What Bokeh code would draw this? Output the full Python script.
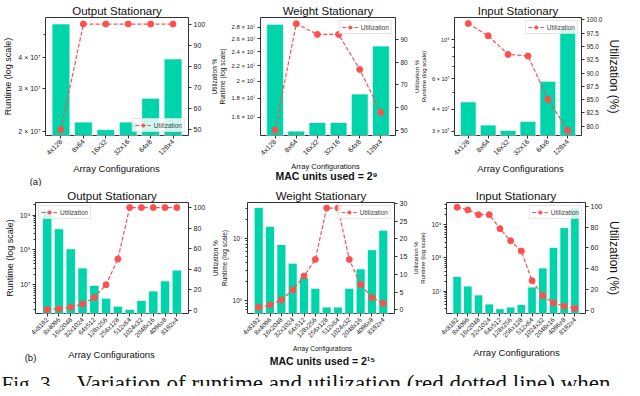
import math
from bokeh.plotting import figure
from bokeh.models import (Range1d, FactorRange, LinearAxis, LinearScale, FixedTicker,
                          PrintfTickFormatter, Label)
from bokeh.layouts import row, column
from bokeh.embed import file_html
from bokeh.resources import INLINE

# ---------------- data ----------------
top_configs = ["4x128", "8x64", "16x32", "32x16", "64x8", "128x4"]
bottom_configs = ["4x8192", "8x4096", "16x2048", "32x1024", "64x512", "128x256",
                  "256x128", "512x64", "1024x32", "2048x16", "4096x8", "8192x4"]

os_top_runtime = [5.5e7, 2.19e7, 2.04e7, 2.19e7, 2.74e7, 3.96e7]
os_top_util = [50, 100, 100, 100, 100, 100]
ws_top_runtime = [2.85e7, 1.47e7, 1.55e7, 1.55e7, 1.85e7, 2.49e7]
ws_top_util = [50, 96.9, 92.2, 92.2, 76.7, 57.7]
is_top_runtime = [4.42e7, 3.26e7, 3.04e7, 3.42e7, 5.8e7, 1.154e8]
is_top_util = [99.3, 97.0, 93.5, 93.2, 85.1, 79.2]

os_bot_runtime = [1.42e9, 4.05e8, 1.08e8, 3.03e7, 9.6e6, 4.1e6, 2.42e6, 1.96e6, 3.53e6, 6.6e6, 1.29e7, 2.63e7]
os_bot_util = [0.78, 1.56, 3.125, 6.25, 12.5, 25, 50, 100, 100, 100, 100, 100]
ws_bot_runtime = [3.1e7, 1.54e7, 7.9e6, 3.95e6, 2.34e6, 1.56e6, 7.8e5, 7.8e5, 1.56e6, 3.2e6, 6.5e6, 1.34e7]
ws_bot_util = [0.71, 1.33, 2.75, 5.6, 9.5, 14.2, 28.7, 28.7, 14.2, 7.1, 3.4, 1.8]
is_bot_runtime = [2.76e7, 1.42e7, 7.7e6, 4.1e6, 2.95e6, 3.3e6, 3.95e6, 1.33e7, 5.0e7, 2.07e8, 8.2e8, 3.37e9]
is_bot_util = [99.1, 96.6, 92, 92, 78.5, 66.9, 57, 28.5, 14.1, 7.1, 4, 1.8]

# axis limits
os_top_ylim = [1.93e7, 5.84e7]; os_top_ulim = [47.2, 103.1]
ws_top_ylim = [1.43e7, 2.97e7]; ws_top_ulim = [47.6, 99.65]
is_top_ylim = [2.84e7, 1.34e8]; is_top_ulim = [78.27, 100.43]
os_bot_ylim = [1.49e6, 2.3e9]; os_bot_ulim = [-3.0, 104.9]
ws_bot_ylim = [6.14e5, 3.73e7]; ws_bot_ulim = [-1.06, 30.27]
is_bot_ylim = [2.12e6, 4.69e9]; is_bot_ulim = [-3.07, 103.7]

# tick values and labels
os_top_ticks = [20000000, 30000000, 40000000]
os_top_tick_labels = ["2 × 10⁷", "3 × 10⁷", "4 × 10⁷"]
os_top_minor = [50000000]
ws_top_ticks = [16000000, 18000000, 20000000, 22000000, 24000000, 26000000, 28000000]
ws_top_tick_labels = ["1.6 × 10⁷", "1.8 × 10⁷", "2 × 10⁷", "2.2 × 10⁷", "2.4 × 10⁷", "2.6 × 10⁷", "2.8 × 10⁷"]
is_top_ticks = [30000000, 40000000, 60000000, 100000000]
is_top_tick_labels = ["3 × 10⁷", "4 × 10⁷", "6 × 10⁷", "10⁸"]
is_top_minor = [50000000, 70000000, 80000000, 90000000]
decade_ticks_789 = [10000000, 100000000, 1000000000]
decade_labels_789 = ["10⁷", "10⁸", "10⁹"]
decade_ticks_67 = [1000000, 10000000]
decade_labels_67 = ["10⁶", "10⁷"]
log_minor = [m * 10 ** e for e in range(5, 10) for m in range(2, 10)]

os_top_uticks = [50, 60, 70, 80, 90, 100]
ws_top_uticks = [50, 60, 70, 80, 90]
is_top_uticks = [80, 82.5, 85, 87.5, 90, 92.5, 95, 97.5, 100]
os_bot_uticks = [0, 20, 40, 60, 80, 100]
ws_bot_uticks = [0, 5, 10, 15, 20, 25, 30]
is_bot_uticks = [0, 20, 40, 60, 80, 100]

BAR = "#00d4aa"
RED = "#ff5050"
FONT = "Liberation Sans"


def style_axis(ax, tick_size, label_size):
    ax.major_label_text_font = FONT
    ax.major_label_text_font_size = tick_size
    ax.major_label_text_color = "#222222"
    ax.axis_label_text_font = FONT
    ax.axis_label_text_font_size = label_size
    ax.axis_label_text_font_style = "normal"
    ax.axis_label_text_color = "#111111"
    ax.axis_line_color = None
    ax.major_tick_in = 0
    ax.major_tick_out = 3
    ax.minor_tick_in = 0
    ax.minor_tick_out = 2
    ax.major_tick_line_color = "#333333"
    ax.minor_tick_line_color = "#333333"
    ax.major_label_standoff = 2
    ax.axis_label_standoff = 2


def make_panel(cats, runtime, util, ylim, ulim, ticks, tick_labels, minor, uticks, ufmt,
               w, h, bl, br, bt, bb, title, ylab, ylab_size, ytick_size,
               xtick_size, utick_size, ulab, ulab_size, leg_loc, pad):
    p = figure(width=w, height=h, y_axis_type="log",
               x_range=FactorRange(factors=cats, range_padding=pad),
               y_range=Range1d(*ylim), output_backend="svg", toolbar_location=None,
               min_border_left=bl, min_border_right=br, min_border_top=bt, min_border_bottom=bb)
    p.extra_y_ranges = {"u": Range1d(*ulim)}
    p.extra_y_scales = {"u": LinearScale()}
    p.xgrid.visible = False
    p.ygrid.visible = False
    p.outline_line_color = "#333333"
    p.outline_line_width = 1

    p.vbar(x=cats, top=runtime, bottom=ylim[0] * 0.5, width=0.8,
           fill_color=BAR, line_color="white", line_width=0.8)
    p.line(x=cats, y=util, y_range_name="u", line_color=RED, line_width=1.2,
           line_dash="4 2", legend_label="Utilization")
    p.scatter(x=cats, y=util, y_range_name="u", size=6, fill_color=RED,
              line_color=RED, legend_label="Utilization")

    yax = p.yaxis[0]
    yax.ticker = FixedTicker(ticks=ticks, minor_ticks=minor)
    yax.major_label_overrides = dict(zip(ticks, tick_labels))
    yax.axis_label = ylab
    style_axis(yax, ytick_size, ylab_size)

    xax = p.xaxis[0]
    xax.axis_label = None
    xax.major_label_orientation = math.pi / 4
    style_axis(xax, xtick_size, "7px")

    rax = LinearAxis(y_range_name="u", ticker=FixedTicker(ticks=uticks))
    if ufmt:
        rax.formatter = PrintfTickFormatter(format=ufmt)
    rax.axis_label = ulab
    style_axis(rax, utick_size, ulab_size)
    p.add_layout(rax, "right")

    p.title.text = title
    p.title.align = "center"
    p.title.text_font = FONT
    p.title.text_font_size = "11.5px"
    p.title.text_font_style = "normal"
    p.title.text_color = "#111111"
    p.title.standoff = 1

    lg = p.legend[0]
    lg.location = leg_loc
    lg.label_text_font = FONT
    lg.label_text_font_size = "6.5px"
    lg.glyph_width = 16
    lg.glyph_height = 8
    lg.label_height = 8
    lg.label_standoff = 3
    lg.padding = 2
    lg.spacing = 0
    lg.margin = 3
    lg.border_line_color = "#cccccc"
    lg.background_fill_alpha = 0.8
    return p


def strip(w, h, texts):
    s = figure(width=w, height=h, x_range=Range1d(0, 1), y_range=Range1d(0, 1),
               output_backend="svg", toolbar_location=None, min_border=0,
               x_axis_location=None, y_axis_location=None, outline_line_color=None)
    s.grid.visible = False
    for t in texts:
        s.add_layout(Label(x_units="screen", y_units="screen", text_font=FONT,
                           text_align="center", text_baseline="middle",
                           text_color="#111111", **t))
    return s


pad6 = 0.38 / 6
pad12 = 0.98 / 12

# ---- top row ----
f1 = make_panel(top_configs, os_top_runtime, os_top_util, os_top_ylim, os_top_ulim,
                os_top_ticks, os_top_tick_labels, os_top_minor, os_top_uticks, None,
                208, 161, 45, 20, 15, 24, "Output Stationary",
                "Runtime (log scale)", "9px", "7px", "7px", "7px",
                None, "7px", "bottom_right", pad6)
f2 = make_panel(top_configs, ws_top_runtime, ws_top_util, ws_top_ylim, ws_top_ulim,
                ws_top_ticks, ws_top_tick_labels, [], ws_top_uticks, None,
                202, 161, 45, 12, 16, 21, "Weight Stationary",
                "Utilization %\nRuntime (log scale)", "6.5px", "6px", "7px", "6.5px",
                None, "7px", "top_right", pad6)
f3 = make_panel(top_configs, is_top_runtime, is_top_util, is_top_ylim, is_top_ulim,
                is_top_ticks, is_top_tick_labels, is_top_minor, is_top_uticks, "%.1f",
                214, 161, 41, 34, 17, 25, "Input Stationary",
                "Utilization %\nRuntime (log scale)", "6px", "5.5px", "7px", "6.3px",
                "Utilization (%)", "12px", "top_right", pad6)
top_strip = strip(624, 25, [
    dict(x=116, y=18, text="Array Configurations", text_font_size="9.5px"),
    dict(x=35, y=5, text="(a)", text_font_size="9.5px"),
    dict(x=325, y=20, text="Array Configurations", text_font_size="7.5px"),
    dict(x=326, y=11, text="MAC units used = 2⁹", text_font_size="10.5px", text_font_style="bold"),
    dict(x=520, y=18, text="Array Configurations", text_font_size="9.5px"),
])

# ---- bottom row ----
f4 = make_panel(bottom_configs, os_bot_runtime, os_bot_util, os_bot_ylim, os_bot_ulim,
                decade_ticks_789, decade_labels_789, log_minor, os_bot_uticks, None,
                208, 158, 35, 20, 13, 28, "Output Stationary",
                "Runtime (log scale)", "9px", "7px", "6.5px", "7px",
                None, "7px", "top_left", pad12)
f5 = make_panel(bottom_configs, ws_bot_runtime, ws_bot_util, ws_bot_ylim, ws_bot_ulim,
                decade_ticks_67, decade_labels_67, log_minor, ws_bot_uticks, None,
                202, 158, 39, 12, 13, 28, "Weight Stationary",
                "Utilization %\nRuntime (log scale)", "6.5px", "6.5px", "6.5px", "7px",
                None, "7px", "top_right", pad12)
f6 = make_panel(bottom_configs, is_bot_runtime, is_bot_util, is_bot_ylim, is_bot_ulim,
                decade_ticks_789, decade_labels_789, log_minor, is_bot_uticks, None,
                214, 158, 32, 33, 16, 27, "Input Stationary",
                "Utilization %\nRuntime (log scale)", "6px", "6.5px", "6.5px", "7px",
                "Utilization (%)", "12px", "top_right", pad12)
bottom_strip = strip(624, 24, [
    dict(x=111, y=14, text="Array Configurations", text_font_size="9.5px"),
    dict(x=30, y=11, text="(b)", text_font_size="9.5px"),
    dict(x=322, y=20, text="Array Configurations", text_font_size="6.5px"),
    dict(x=322, y=8, text="MAC units used = 2¹⁵", text_font_size="10.5px", text_font_style="bold"),
    dict(x=516, y=16, text="Array Configurations", text_font_size="9.5px"),
])

# ---- caption ----
cap = figure(width=624, height=18, x_range=Range1d(0, 1), y_range=Range1d(0, 1),
             output_backend="svg", toolbar_location=None, min_border=0,
             x_axis_location=None, y_axis_location=None, outline_line_color=None)
cap.grid.visible = False
cap.add_layout(Label(x=1, y=3, x_units="screen", y_units="screen", text="Fig. 3.",
                     text_font="Liberation Serif", text_font_size="21px",
                     text_baseline="alphabetic", text_color="#111111"))
cap.add_layout(Label(x=76, y=3, x_units="screen", y_units="screen",
                     text="Variation of runtime and utilization (red dotted line) when",
                     text_font="Liberation Serif", text_font_size="23px",
                     text_baseline="alphabetic", text_color="#111111"))

layout = column(row(f1, f2, f3), top_strip, row(f4, f5, f6), bottom_strip, cap)
open("out.html", "w").write(file_html(layout, INLINE))
